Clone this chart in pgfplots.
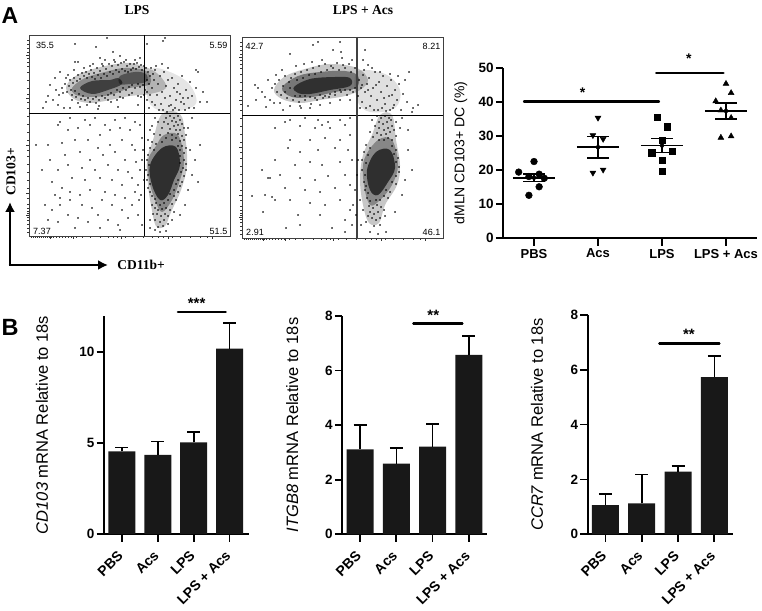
\documentclass[border=0pt]{standalone}
\usepackage{fontspec}
\usepackage{pgfplots}
\usetikzlibrary{arrows.meta}
\pgfplotsset{compat=1.18}
\setmainfont{Liberation Sans}
\newfontfamily\srf{Liberation Serif}
\definecolor{barblk}{HTML}{181818}
\pgfplotsset{
 flow/.style={scale only axis,width=201pt,height=201pt,y dir=reverse,clip=true,
  axis line style={line width=.8pt,color=black!75},
  xtick pos=bottom,ytick pos=left,tick align=outside,
  xticklabels={},yticklabels={},
  major tick length=3pt,minor tick length=1.6pt,
  tick style={line width=.5pt,black!80},
  minor tick style={line width=.4pt,black!80}},
 dots/.style={only marks,mark=*,mark size=.5pt,mark options={draw=none,fill=black}},
 dens/.style={smooth cycle,tension=.6,no marks,draw=none,fill=black,fill opacity=#1},
 quad/.style={sharp plot,no marks,line width=.9pt,black},
 graph/.style={scale only axis,axis x line=bottom,axis y line=left,
  axis line style={-,line width=2pt,black},tick align=outside,clip=false,
  tick style={line width=1.7pt,black},major tick length=7.5pt,
  xtick={0,1,2,3},
  /pgf/number format/assume math mode=true,
  yticklabel style={font=\fontsize{13.5}{15}\selectfont\bfseries,inner sep=2pt},
  y tick label style={/pgf/number format/fixed},
  every axis y label/.style={at={(axis description cs:0,0.5)},rotate=90,anchor=center,font=\fontsize{16.5}{18}\selectfont}},
 barg/.style={graph,xticklabels={PBS,Acs,LPS,LPS + Acs},
  xticklabel style={rotate=45,anchor=north east,font=\fontsize{14}{15}\selectfont\bfseries,inner sep=1pt,xshift=-8.2pt,yshift=-1.1pt}},
 barp/.style={ybar,bar width=27pt,fill=barblk,draw=none,
  error bars/.cd,y dir=plus,y explicit,
  error bar style={line width=1.6pt,black},
  error mark options={rotate=90,mark size=6.5pt,line width=1.6pt,black}},
 sig/.style={sharp plot,no marks,line width=2.4pt,line cap=round,black},
 mean/.style={sharp plot,no marks,line width=1.8pt,black},
 whisk/.style={only marks,mark=none,error bars/.cd,y dir=both,y explicit,
  error bar style={line width=1.6pt,black},
  error mark options={rotate=90,mark size=11pt,line width=1.6pt,black}},
 pt/.style={only marks,mark=#1,mark size=3.4pt,mark options={fill=black,draw=black}}
}
\begin{document}
\begin{tikzpicture}[x=1pt,y=1pt]
\path[use as bounding box] (0,0) rectangle (762,610);
% ---------- flow LPS
\begin{axis}[flow,at={(29pt,374pt)},anchor=south west,xmin=29,xmax=230,ymin=35,ymax=236,
 xtick={50,73,121,168,212},
 minor xtick={31,33,35,37,39,41,43,45,47,49,51,53,56,59,62,65,68,71,76,82,90,100,108,113,117,125,133,143,152,158,163,172,180,190,200,207},
 ytick={55,98,145,193,215},
 minor ytick={40,44,48,52,58,62,66,72,80,88,94,102,108,116,124,132,140,150,156,164,172,180,188,198,204,208,211,213,217,220,224,228,232}]
\addplot[dens=.1] coordinates {(150,70)(170,72)(190,85)(195,105)(165,112)(148,100)};
\addplot[dens=.22] coordinates {(66,88)(74,77)(90,70)(110,65)(130,63)(148,68)(160,76)(166,88)(150,94)(130,96)(110,100)(90,103)(74,99)};
\addplot[dens=.3] coordinates {(72,88)(85,78)(105,72)(125,68)(146,71)(150,84)(130,88)(110,95)(90,97)(76,95)};
\addplot[dens=.55] coordinates {(80,88)(92,81)(110,80)(118,78)(122,84)(108,90)(92,94)};
\addplot[dens=.4] coordinates {(120,76)(135,72)(146,74)(146,82)(130,84)(120,84)};
\addplot[dens=.22] coordinates {(162,114)(180,114)(185,135)(187,165)(181,190)(171,212)(165,226)(156,226)(151,205)(148,185)(147,160)(153,140)};
\addplot[dens=.32] coordinates {(164,135)(178,135)(184,160)(180,180)(172,200)(162,212)(155,200)(149,180)(148,160)(156,146)};
\addplot[dens=.65] coordinates {(162,148)(176,147)(180,165)(174,180)(168,195)(160,200)(152,185)(150,165)};
\addplot[dots] coordinates {(62,88)(65,84)(67,92)(69,86)(70,80)(71,90)(72,95)(73,83)(74,78)(75,91)(76,97)(77,81)(78,75)(79,94)(80,79)(81,99)(82,73)(83,96)(84,76)(85,100)(86,72)(87,78)(88,98)(89,74)(90,102)(91,70)(92,77)(93,99)(94,73)(95,79)(96,97)(97,68)(98,75)(99,100)(100,71)(101,78)(102,96)(103,66)(104,74)(105,98)(106,69)(107,76)(108,95)(109,64)(110,72)(111,93)(112,66)(113,74)(114,95)(115,62)(116,70)(117,90)(118,65)(119,72)(120,92)(121,63)(122,69)(123,88)(124,62)(125,71)(126,90)(127,66)(128,72)(129,87)(130,64)(131,70)(132,85)(133,68)(134,64)(135,88)(136,69)(137,63)(138,84)(139,67)(140,87)(141,65)(142,70)(143,85)(144,66)(145,90)(146,68)(147,80)(148,72)(149,84)(150,76)(151,68)(152,88)(153,74)(154,80)
(66,78)(72,100)(78,103)(84,68)(90,66)(96,103)(102,64)(108,100)(114,60)(120,97)(126,60)(132,93)(138,96)(144,95)(63,93)(68,75)(74,70)(80,107)(87,105)(93,64)(99,106)(105,60)(111,102)(117,100)(123,98)(129,95)(135,60)(141,97)(147,92)(59,95)(56,90)(53,100)(50,85)(46,102)(43,108)(58,105)(48,96)(64,108)(70,108)(98,109)(118,107)(138,105)(55,78)(60,72)(75,62)(100,58)(120,56)(140,58)
(155,70)(158,84)(160,76)(162,92)(164,72)(166,86)(168,80)(170,96)(172,78)(174,88)(176,100)(178,84)(180,94)(182,76)(184,104)(186,90)(188,98)(190,82)(192,96)(194,108)(196,88)(198,72)(200,102)(203,92)(157,95)(161,104)(165,98)(169,106)(173,110)(177,92)(181,102)(185,110)(189,108)(155,105)(159,110)(163,110)(167,112)(171,105)(175,108)(179,110)(183,98)(150,95)(152,102)(149,108)(147,100)(156,66)(162,64)(168,68)(196,70)(207,102)
(165,38)(163,41)(107,38)(75,44)(96,47)(113,52)(147,44)(78,62)
(170,116)(174,118)(178,116)(166,118)(172,121)(176,122)(180,120)(168,124)(174,126)(178,125)(182,124)(164,122)(170,129)(176,130)(180,130)(184,128)(168,133)(172,135)(178,134)(162,128)(182,136)(186,135)(166,138)(172,140)(176,138)(180,141)(184,140)(160,135)(188,128)(192,118)(155,118)(158,122)(152,126)(150,130)(154,134)
(148,140)(152,142)(156,144)(162,142)(178,146)(182,146)(186,148)(150,148)(154,150)(180,150)(184,153)(148,155)(180,156)(184,160)(186,164)(147,160)(149,165)(180,163)(183,168)(146,170)(148,175)(181,172)(184,176)(186,170)(147,180)(150,184)(178,180)(182,182)(176,184)(180,186)(148,188)(150,192)(174,190)(178,192)(152,196)(155,199)(170,194)(174,196)(176,200)(156,203)(160,205)(164,203)(168,200)(172,204)(155,208)(158,210)(162,209)(166,208)(170,210)(152,205)(157,214)(161,216)(165,214)(168,216)(155,220)(160,222)(164,220)(158,227)(163,226)(168,224)(153,214)(150,220)(174,212)(172,220)(155,230)(160,232)(166,231)(150,228)(190,150)(195,160)(200,145)(192,175)(198,182)(188,190)(185,205)(180,215)(140,170)(142,160)(138,185)(143,150)(141,195)(144,180)(136,162)(139,200)
(60,122)(70,118)(85,120)(95,118)(105,125)(115,120)(125,118)(135,122)(58,125)(68,130)(78,128)(90,125)(100,135)(110,130)(120,128)(130,130)(140,125)(48,145)(62,143)(75,140)(88,140)(98,148)(110,145)(122,140)(132,145)(142,138)(52,182)(50,160)(65,155)(80,152)(90,160)(103,155)(115,152)(125,160)(135,150)(58,170)(68,165)(82,168)(95,170)(108,165)(118,170)(128,172)(72,178)(85,180)(100,178)(112,180)(122,185)(132,178)(45,205)(55,195)(62,188)(70,192)(80,195)(90,190)(105,192)(115,195)(125,198)(135,192)(52,210)(60,205)(70,200)(82,205)(92,208)(102,200)(112,205)(122,210)(132,205)(48,220)(58,222)(68,215)(78,218)(88,222)(98,215)(108,220)(118,225)(128,218)(138,215)(100,228)(120,230)(142,225)(75,228)(60,198)(42,170)(36,145)};
\addplot[quad] coordinates {(29,113.5)(230,113.5)};
\addplot[quad] coordinates {(144,35)(144,236)};
\end{axis}
% ---------- flow LPS + Acs
\begin{axis}[flow,at={(242pt,372pt)},anchor=south west,xmin=242,xmax=443,ymin=37,ymax=238,
 xtick={263,285,333,381,425},
 minor xtick={244,246,248,250,252,254,256,258,260,262,264,266,269,272,275,278,281,284,289,295,303,313,321,326,330,338,346,356,365,371,376,385,393,403,413,420},
 ytick={57,100,147,195,217},
 minor ytick={42,46,50,54,60,64,68,74,82,90,96,104,110,118,126,134,142,152,158,166,174,182,190,200,206,210,213,215,219,222,226,230,234}]
\addplot[dens=.12] coordinates {(357,72)(385,74)(400,90)(395,108)(370,112)(357,100)};
\addplot[dens=.22] coordinates {(274,90)(284,77)(305,69)(330,64)(357,68)(368,80)(360,90)(345,96)(320,100)(300,103)(282,99)};
\addplot[dens=.4] coordinates {(282,88)(298,76)(320,72)(345,71)(358,76)(356,88)(335,92)(312,97)(292,97)};
\addplot[dens=.6] coordinates {(294,87)(310,79)(335,77)(350,78)(350,86)(330,90)(310,94)(298,93)};
\addplot[dens=.22] coordinates {(380,115)(392,115)(396,140)(400,165)(397,185)(385,205)(379,223)(369,223)(363,205)(360,180)(363,155)(372,135)};
\addplot[dens=.32] coordinates {(378,140)(392,140)(398,165)(392,185)(380,200)(370,205)(364,185)(364,160)};
\addplot[dens=.65] coordinates {(376,152)(390,150)(395,168)(388,182)(378,195)(370,190)(367,170)};
\addplot[dots] coordinates {(272,88)(275,84)(277,92)(279,80)(281,95)(283,86)(285,76)(287,98)(289,82)(291,78)(293,100)(295,74)(297,80)(299,102)(301,72)(303,78)(305,100)(307,70)(309,75)(311,104)(313,68)(315,74)(317,100)(319,66)(321,72)(323,98)(325,64)(327,70)(329,97)(331,66)(333,68)(335,95)(337,63)(339,70)(341,92)(343,65)(345,68)(347,95)(349,64)(351,72)(353,92)(355,68)(285,92)(290,88)(295,96)(300,96)(305,96)(310,97)(315,98)(320,95)(325,96)(330,94)(335,92)(340,90)(345,90)(350,90)(355,88)(280,103)(290,106)(300,106)(310,108)(320,105)(330,103)(340,100)(350,100)(255,85)(262,92)(268,80)(270,100)(274,103)(265,97)(258,88)(266,107)(256,100)(248,106)(276,75)(282,70)(296,66)(304,64)(312,62)(322,60)(342,58)(352,60)(333,50)(313,45)(318,42)(340,42)(341,52)(290,54)(301,108)(283,110)
(359,80)(361,88)(363,75)(365,92)(367,84)(369,78)(371,96)(373,88)(375,72)(377,100)(379,82)(381,92)(383,76)(385,104)(387,86)(389,96)(391,80)(393,108)(395,90)(397,100)(399,84)(401,110)(403,94)(405,80)(407,102)(409,72)(413,108)(418,105)(358,96)(362,102)(366,108)(370,106)(374,110)(378,110)(382,108)(386,111)(390,110)(394,105)(360,108)(364,70)(372,68)(380,72)(390,74)(398,76)(362,85)(368,90)(376,85)(384,98)(392,95)(412,112)(363,60)(365,50)(368,65)
(377,116)(381,118)(385,116)(389,118)(379,122)(383,124)(387,122)(391,120)(375,126)(379,128)(384,130)(388,128)(392,126)(377,133)(381,135)(386,134)(390,132)(394,130)(373,137)(379,140)(384,140)(388,138)(392,140)(396,136)(370,132)(372,120)(396,122)(400,128)(402,118)(408,130)
(366,145)(370,148)(392,146)(396,150)(364,152)(368,155)(394,154)(398,158)(362,160)(366,163)(396,162)(399,167)(362,170)(365,175)(396,176)(399,172)(364,182)(366,186)(392,182)(396,184)(365,190)(368,193)(386,190)(390,192)(367,198)(370,201)(376,200)(380,200)(384,196)(388,198)(369,206)(373,208)(377,205)(381,207)(370,212)(374,214)(378,212)(372,218)(376,220)(380,218)(368,216)(384,210)(366,222)(374,226)(380,225)(385,216)(363,210)(360,200)(370,232)(378,234)(386,232)(405,180)(408,150)(402,195)(395,212)(412,170)(357,175)(355,190)(358,160)(353,205)(356,215)(361,225)
(290,120)(305,118)(318,120)(328,122)(340,120)(350,118)(300,126)(315,128)(322,125)(330,128)(345,125)(285,122)(275,128)(290,140)(310,140)(325,138)(340,140)(350,135)(288,148)(300,152)(318,150)(335,148)(348,150)(275,160)(295,165)(310,162)(322,165)(340,162)(352,160)(280,175)(300,178)(315,180)(328,176)(345,175)(262,170)(270,178)(285,188)(305,190)(320,192)(335,188)(350,185)(265,195)(275,200)(290,200)(310,203)(325,205)(340,200)(350,210)(272,197)(298,215)(320,215)(345,220)(352,225)(300,225)(332,228)(345,232)(286,228)(263,212)(252,196)(268,178)};
\addplot[quad] coordinates {(242,115)(443,115)};
\addplot[quad,line width=1.2pt,black!75] coordinates {(357,37)(357,238)};
\end{axis}
% flow annotations
\node[font=\fontsize{23}{24}\selectfont\bfseries] at (10,594) {A};
\node[font=\fontsize{23.5}{25}\selectfont\bfseries] at (10,283) {B};
\node[font=\srf\fontsize{13.5}{14}\selectfont\bfseries] at (137,600) {LPS};
\node[font=\srf\fontsize{13.5}{14}\selectfont\bfseries] at (363,600) {LPS + Acs};
\node[font=\srf\fontsize{13.5}{14}\selectfont\bfseries] at (141,345) {CD11b+};
\node[font=\srf\fontsize{13.5}{14}\selectfont\bfseries,rotate=90] at (11,438) {CD103+};
\draw[line width=2.6pt,-{Latex[length=10pt,width=10pt]},black] (10,345) -- (10,408);
\draw[line width=2.6pt,-{Latex[length=10pt,width=10pt]},black] (8.7,345) -- (108,345);
\begin{scope}[every node/.style={font=\fontsize{9}{10}\selectfont,inner sep=1pt}]
\node at (45,565) {35.5};
\node at (218.5,565) {5.59};
\node at (42,379) {7.37};
\node at (218.5,379) {51.5};
\node at (254.5,564) {42.7};
\node at (431.5,564) {8.21};
\node at (255,378) {2.91};
\node at (431.5,378) {46.1};
\end{scope}
% ---------- dot plot
\begin{axis}[graph,at={(503.3pt,371.7pt)},anchor=south west,width=253.4pt,height=170.6pt,
 xmin=-0.48,xmax=3.48,ymin=0,ymax=50,ytick={0,10,20,30,40,50},
 xticklabels={PBS,Acs,LPS,LPS + Acs},
 xticklabel style={font=\fontsize{13}{14}\selectfont\bfseries,inner sep=1pt,yshift=-2pt},
 ylabel={dMLN CD103+ DC (\%)},
 ylabel style={font=\fontsize{14}{15}\selectfont,yshift=42.6pt}]
\addplot[pt=*] coordinates {(0,22.5)(-0.24,19.4)(-0.08,18.1)(0.08,18.8)(0.16,17.6)(0.08,15.1)(-0.08,12.6)};
\addplot[pt=triangle*,mark options={rotate=180,fill=black}] coordinates {(1,35.3)(0.92,30.2)(1.08,29.1)(0.92,19.2)(1.08,20.1)};
\addplot[pt=square*,mark size=3.1pt] coordinates {(1.92,35.5)(2.08,32.7)(2,28.8)(1.84,25.1)(2.16,25.5)(2,23)(2,19.6)};
\addplot[pt=triangle*] coordinates {(3,45.3)(3.08,42.6)(2.84,40.2)(2.92,37.5)(3.08,35.3)(2.92,29.5)(3.08,29.9)};
\addplot[whisk] coordinates {(0,17.75) +- (0,1.15) (1,26.7) +- (0,3.1) (2,27.2) +- (0,2.1) (3,37.3) +- (0,2.3)};
\addplot[mean] coordinates {(-0.33,17.75)(0.33,17.75)};
\addplot[mean] coordinates {(0.67,26.7)(1.33,26.7)};
\addplot[mean] coordinates {(1.67,27.2)(2.33,27.2)};
\addplot[mean] coordinates {(2.67,37.3)(3.33,37.3)};
\addplot[sig] coordinates {(-0.156,40.1)(1.953,40.1)};
\addplot[sig] coordinates {(1.91,48.4)(2.96,48.4)};
\node[font=\fontsize{14}{14}\selectfont\bfseries] at (axis cs:0.76,42.8) {*};
\node[font=\fontsize{14}{14}\selectfont\bfseries] at (axis cs:2.42,52.6) {*};
\end{axis}
% ---------- B1
\begin{axis}[barg,at={(104pt,76pt)},anchor=south west,width=145pt,height=218pt,
 xmin=-0.5,xmax=3.54,ymin=0,ymax=12,ytick={0,5,10},
 ylabel={\textit{CD103} mRNA Relative to 18s},ylabel style={yshift=62pt}]
\addplot[barp] coordinates {(0,4.55) +- (0,0.21) (1,4.36) +- (0,0.73) (2,5.05) +- (0,0.57) (3,10.2) +- (0,1.4)};
\addplot[sig] coordinates {(1.56,12.23)(2.89,12.23)};
\node[font=\fontsize{15}{15}\selectfont\bfseries] at (axis cs:2.08,12.7) {***};
\end{axis}
% ---------- B2
\begin{axis}[barg,at={(342.3pt,75.7pt)},anchor=south west,width=145pt,height=218.6pt,
 xmin=-0.488,xmax=3.507,ymin=0,ymax=8,ytick={0,2,4,6,8},
 ylabel={\textit{ITGB8} mRNA Relative to 18s},ylabel style={yshift=50pt}]
\addplot[barp] coordinates {(0,3.11) +- (0,0.9) (1,2.585) +- (0,0.575) (2,3.21) +- (0,0.83) (3,6.57) +- (0,0.69)};
\addplot[sig] coordinates {(1.47,7.71)(2.82,7.71)};
\node[font=\fontsize{15}{15}\selectfont\bfseries] at (axis cs:2.02,8.03) {**};
\end{axis}
% ---------- B3
\begin{axis}[barg,at={(587.7pt,75.7pt)},anchor=south west,width=145pt,height=219.3pt,
 xmin=-0.488,xmax=3.507,ymin=0,ymax=8,ytick={0,2,4,6,8},
 ylabel={\textit{CCR7} mRNA Relative to 18s},ylabel style={yshift=50.7pt}]
\addplot[barp] coordinates {(0,1.06) +- (0,0.42) (1,1.13) +- (0,1.05) (2,2.29) +- (0,0.2) (3,5.73) +- (0,0.77)};
\addplot[sig] coordinates {(1.486,6.96)(3.14,6.96)};
\node[font=\fontsize{15}{15}\selectfont\bfseries] at (axis cs:2.3,7.3) {**};
\end{axis}
\end{tikzpicture}
\end{document}
